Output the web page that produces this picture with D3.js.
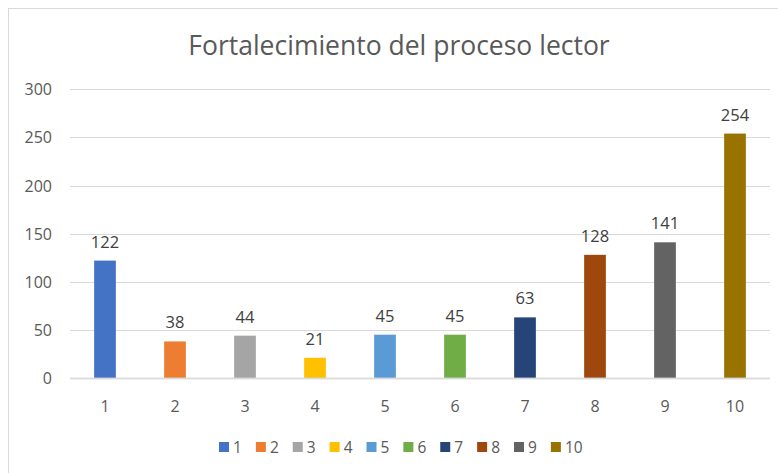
<!DOCTYPE html>
<html>
<head>
<meta charset="utf-8">
<script src="https://cdn.jsdelivr.net/npm/d3@7"></script>
<style>
  body { margin: 0; background: #fff; }
  text { font-family: "Open Sans", "Noto Sans", sans-serif; }
</style>
</head>
<body>
<div id="chart"></div>
<script>
const categories = ["1", "2", "3", "4", "5", "6", "7", "8", "9", "10"];
const values = [122, 38, 44, 21, 45, 45, 63, 128, 141, 254];
const colors = ["#4472C4", "#ED7D31", "#A5A5A5", "#FFC000", "#5B9BD5",
                "#70AD47", "#264478", "#9E480E", "#636363", "#997300"];
const yTicks = [0, 50, 100, 150, 200, 250, 300];
const title = "Fortalecimiento del proceso lector";

var width = 778;
var height = 473;

const svg = d3.select("#chart").append("svg")
    .attr("width", width)
    .attr("height", height);

// chart area border
svg.append("rect")
    .attr("x", 8.5).attr("y", 8.5)
    .attr("width", 780).attr("height", 480)
    .attr("fill", "none")
    .attr("stroke", "#d9d9d9");

svg.append("text")
    .attr("x", 399).attr("y", 55)
    .attr("text-anchor", "middle")
    .attr("font-size", 26.5)
    .attr("fill", "#595959")
    .text(title);

const x = d3.scaleBand()
    .domain(categories)
    .range([70, 770])
    .paddingInner(0.69)
    .paddingOuter(0.345);

const y = d3.scaleLinear()
    .domain([0, 300])
    .range([378, 89.3]);

// gridlines
svg.append("g")
    .selectAll("line")
    .data(yTicks)
    .enter().append("line")
    .attr("x1", 70).attr("x2", 770)
    .attr("y1", d => Math.round(y(d)) + 0.5)
    .attr("y2", d => Math.round(y(d)) + 0.5)
    .attr("stroke", "#d9d9d9")
    .attr("stroke-width", 1);

// y labels
svg.append("g")
    .selectAll("text")
    .data(yTicks)
    .enter().append("text")
    .attr("x", 52)
    .attr("y", d => y(d) + 6)
    .attr("text-anchor", "end")
    .attr("font-size", 16)
    .attr("fill", "#595959")
    .text(d => d);

// bars
svg.append("g")
    .selectAll("rect")
    .data(values)
    .enter().append("rect")
    .attr("x", (d, i) => x(categories[i]))
    .attr("y", d => y(d))
    .attr("width", x.bandwidth())
    .attr("height", d => y(0) - y(d))
    .attr("fill", (d, i) => colors[i]);

// axis line over bar bottoms
svg.append("line")
    .attr("x1", 70).attr("x2", 770)
    .attr("y1", Math.round(y(0)) + 0.5)
    .attr("y2", Math.round(y(0)) + 0.5)
    .attr("stroke", "#d9d9d9")
    .attr("stroke-opacity", 0.8)
    .attr("stroke-width", 2);

// data labels
svg.append("g")
    .selectAll("text")
    .data(values)
    .enter().append("text")
    .attr("x", (d, i) => x(categories[i]) + x.bandwidth() / 2)
    .attr("y", d => y(d) - 13)
    .attr("text-anchor", "middle")
    .attr("font-size", 16.5)
    .attr("fill", "#404040")
    .text(d => d);

// category labels
svg.append("g")
    .selectAll("text")
    .data(categories)
    .enter().append("text")
    .attr("x", d => x(d) + x.bandwidth() / 2)
    .attr("y", 412)
    .attr("text-anchor", "middle")
    .attr("font-size", 16)
    .attr("fill", "#595959")
    .text(d => d);

// legend
const legend = svg.append("g");
let lx = 219;
categories.forEach((c, i) => {
    const g = legend.append("g").attr("transform", `translate(${lx},0)`);
    g.append("rect")
        .attr("x", 0).attr("y", 442)
        .attr("width", 10).attr("height", 10)
        .attr("fill", colors[i]);
    const t = g.append("text")
        .attr("x", 14).attr("y", 452.5)
        .attr("font-size", 15.5)
        .attr("fill", "#595959")
        .text(c);
    lx += 14 + t.node().getComputedTextLength() + 14;
});
</script>
</body>
</html>
